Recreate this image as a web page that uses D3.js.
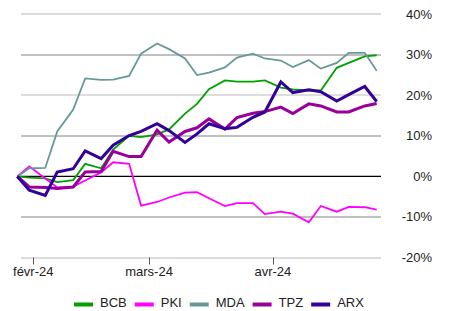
<!DOCTYPE html>
<html>
<head>
<meta charset="utf-8">
<script src="https://cdn.jsdelivr.net/npm/d3@7"></script>
<style>
  body { margin: 0; background: #fff; }
  svg { display: block; font-family: "Liberation Sans", Arial, sans-serif; }
</style>
</head>
<body>
<div id="chart"></div>
<script>
// dates of each observation
const dates = [
  "2024-01-28", "2024-01-31", "2024-02-04", "2024-02-07", "2024-02-11", "2024-02-14",
  "2024-02-18", "2024-02-21", "2024-02-25", "2024-02-28", "2024-03-03", "2024-03-06",
  "2024-03-10", "2024-03-13", "2024-03-16", "2024-03-20", "2024-03-23", "2024-03-27",
  "2024-03-30", "2024-04-03", "2024-04-06", "2024-04-10", "2024-04-13", "2024-04-17",
  "2024-04-20", "2024-04-24", "2024-04-27"
];

// performance in %
const BCB = [0, -0.3, -0.5, -1.4, -0.9, 3.1, 2.0, 6.6, 10.0, 9.7, 10.4, 11.6, 15.5, 17.9,
  21.5, 23.7, 23.4, 23.4, 23.7, 21.9, 21.5, 21.2, 21.2, 26.8, 28.0, 29.6, 29.9];
const PKI = [0, 2.5, -0.5, -2.7, -2.5, -1.0, 1.0, 3.5, 3.1, -7.2, -6.3, -5.2, -4.0, -3.9,
  -5.4, -7.3, -6.6, -6.6, -9.3, -8.7, -9.2, -11.3, -7.3, -8.7, -7.5, -7.6, -8.2];
const MDA = [0, 2.0, 2.1, 11.1, 16.5, 24.2, 23.8, 23.9, 24.8, 30.3, 32.8, 31.4, 29.1, 25.0,
  25.6, 26.9, 29.3, 30.3, 29.1, 28.6, 27.0, 28.7, 26.6, 28.0, 30.5, 30.5, 26.1];
const TPZ = [0, -2.6, -2.7, -3.0, -2.6, 1.1, 1.2, 6.2, 4.9, 4.9, 11.4, 8.5, 11.1, 12.0,
  14.2, 11.7, 14.5, 15.6, 16.0, 17.1, 15.5, 17.9, 17.4, 15.9, 15.9, 17.4, 18.0];
const ARX = [0, -3.4, -4.7, 1.1, 1.9, 6.3, 4.4, 7.7, 10.1, 11.1, 13.0, 11.3, 8.4, 10.5,
  13.0, 11.8, 12.1, 14.6, 15.9, 23.3, 20.7, 21.4, 20.9, 18.6, 20.2, 22.2, 18.5];

const seriesNames = ["BCB", "PKI", "MDA", "TPZ", "ARX"];
const seriesValues = [BCB, PKI, MDA, TPZ, ARX];
const seriesColors = ["#00a000", "#ff00ff", "#669999", "#990099", "#330099"];
const seriesWidths = [1.8, 1.8, 1.8, 3, 3];

const yTicks = [-20, -10, 0, 10, 20, 30, 40];
const xTicks = ["2024-02-01", "2024-03-01", "2024-04-01"];

const width = 449, height = 311;
const parse = d3.timeParse("%Y-%m-%d");
const frMonth = d3.timeFormatLocale({
  dateTime: "%A %e %B %Y à %X", date: "%d/%m/%Y", time: "%H:%M:%S",
  periods: ["AM", "PM"],
  days: ["dimanche", "lundi", "mardi", "mercredi", "jeudi", "vendredi", "samedi"],
  shortDays: ["dim.", "lun.", "mar.", "mer.", "jeu.", "ven.", "sam."],
  months: ["janvier", "février", "mars", "avril", "mai", "juin", "juillet", "août", "septembre", "octobre", "novembre", "décembre"],
  shortMonths: ["janv", "févr", "mars", "avr", "mai", "juin", "juil", "août", "sept", "oct", "nov", "déc"]
}).format("%b-%y");

const svg = d3.select("#chart").append("svg")
  .attr("width", width)
  .attr("height", height);

const x = d3.scaleTime()
  .domain([parse(dates[0]), parse(dates[dates.length - 1])])
  .range([17.3, 376.7]);

const y = d3.scaleLinear()
  .domain([-20, 40])
  .range([257.5, 14.3]);

// gridlines
svg.append("g")
  .selectAll("line")
  .data(yTicks.filter(d => d !== 0))
  .enter()
  .append("line")
  .attr("x1", 21)
  .attr("x2", 381)
  .attr("y1", d => Math.round(y(d)))
  .attr("y2", d => Math.round(y(d)))
  .attr("stroke", d => (d / 10) % 2 === 0 ? "#d2d2d2" : "#ababab")
  .attr("stroke-width", 1.6);

// y labels on the right
svg.append("g")
  .selectAll("text")
  .data(yTicks)
  .enter()
  .append("text")
  .attr("x", 432)
  .attr("y", d => y(d) + 4.5)
  .attr("text-anchor", "end")
  .attr("font-size", 13)
  .attr("fill", "#222")
  .text(d => d + "%");

// x axis ticks + labels
const xAxis = svg.append("g");
xAxis.selectAll("line")
  .data(xTicks)
  .enter()
  .append("line")
  .attr("x1", d => Math.round(x(parse(d))) + 0.5)
  .attr("x2", d => Math.round(x(parse(d))) + 0.5)
  .attr("y1", y(-20))
  .attr("y2", y(-20) + 7)
  .attr("stroke", "#555")
  .attr("stroke-width", 1);
xAxis.selectAll("text")
  .data(xTicks)
  .enter()
  .append("text")
  .attr("x", d => x(parse(d)))
  .attr("y", 276)
  .attr("text-anchor", "middle")
  .attr("font-size", 13)
  .attr("fill", "#222")
  .text(d => frMonth(parse(d)));

// zero line
svg.append("line")
  .attr("x1", 17)
  .attr("x2", 381)
  .attr("y1", y(0))
  .attr("y2", y(0))
  .attr("stroke", "#000")
  .attr("stroke-width", 1.3);

// series lines
const line = d3.line()
  .x((d, i) => x(parse(dates[i])))
  .y(d => y(d));

svg.append("g")
  .selectAll("path")
  .data(seriesValues)
  .enter()
  .append("path")
  .attr("d", d => line(d))
  .attr("fill", "none")
  .attr("stroke", (d, i) => seriesColors[i])
  .attr("stroke-width", (d, i) => seriesWidths[i])
  .attr("stroke-linejoin", "miter");

// legend
const legend = svg.append("g");
let lx = 74;
seriesNames.forEach((name, i) => {
  legend.append("line")
    .attr("x1", lx)
    .attr("x2", lx + 19)
    .attr("y1", 304.5)
    .attr("y2", 304.5)
    .attr("stroke", seriesColors[i])
    .attr("stroke-width", 4);
  const t = legend.append("text")
    .attr("x", lx + 26)
    .attr("y", 306.5)
    .attr("font-size", 13)
    .attr("fill", "#222")
    .text(name);
  lx += 26 + t.node().getComputedTextLength() + 8;
});
</script>
</body>
</html>
